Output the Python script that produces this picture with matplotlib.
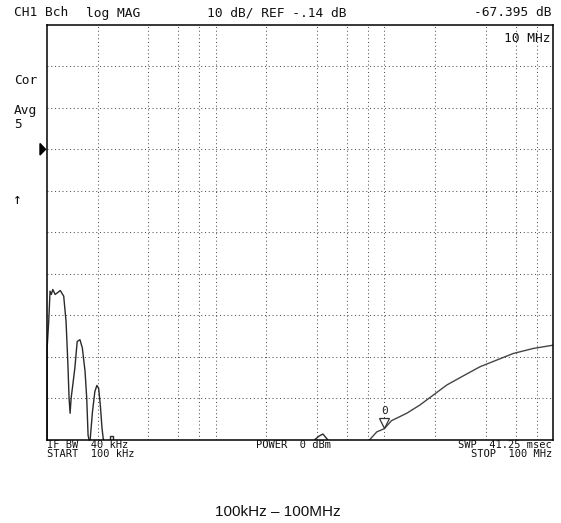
import matplotlib
matplotlib.use("Agg")
import matplotlib.pyplot as plt
from matplotlib.transforms import offset_copy
import numpy as np

# screen settings: 10 dB/div, ref -0.14 dB at 3rd division from the top
ref_db = -0.14
db_per_div = 10
top_db = ref_db + 3 * db_per_div
bot_db = top_db - 10 * db_per_div
f_start = 100e3
f_stop = 100e6

# trace, low frequency lobes (Hz, dB)
lobe_f = [100.6e3, 100.6e3, 102.8e3, 104.7e3, 106.5e3, 108.7e3, 112.2e3, 120.3e3, 126.1e3,
          130.2e3, 133.3e3, 135.7e3, 137.6e3, 139.5e3, 142.7e3, 146.8e3, 151.6e3, 157.4e3,
          162.6e3, 168.7e3, 172.6e3, 175.8e3, 178.3e3]
lobe_db = [-70.14, -48.0, -41.5, -34.3, -35.1, -33.9, -35.1, -34.15, -35.5,
           -41.6, -51.2, -60.1, -63.7, -60.1, -56.9, -52.8, -46.4, -46.0,
           -48.0, -53.6, -60.1, -69.0, -70.14]
lobe2_f = [180.8e3, 186.7e3, 192.8e3, 198.2e3, 203e3, 207.7e3, 212.6e3, 216.6e3]
lobe2_db = [-70.14, -63.3, -58.5, -57.0, -57.7, -61.7, -67.3, -70.14]
blip_f = [236.4e3, 236.4e3, 246.5e3, 246.5e3]
blip_db = [-70.14, -69.2, -69.2, -70.14]
bump_f = [3.88e6, 4.1e6, 4.32e6, 4.63e6]
bump_db = [-70.0, -69.2, -68.7, -70.14]

# trace, rising part
rise_f = [8.21e6, 9.0e6, 10e6, 11.0e6, 13.55e6, 16.24e6, 19.5e6, 23.4e6, 28.7e6, 36.8e6,
          46.2e6, 58.0e6, 76.1e6, 100e6]
rise_db = [-70.0, -68.2, -67.4, -65.5, -63.7, -61.7, -59.3, -56.9, -54.9, -52.5,
           -50.9, -49.3, -48.1, -47.3]

marker_f = 10e6
marker_db = -67.395

grid_f = [m * 10 ** e for e in (5, 6, 7) for m in (2, 4, 6, 8, 10)][:-1]
grid_db = [top_db - i * db_per_div for i in range(1, 10)]

fig = plt.figure(figsize=(5.61, 5.23), dpi=100)
ax = fig.add_axes([46.7 / 561, (523 - 440) / 523, 506.6 / 561, 415.3 / 523])
ax.set_xscale("log")
ax.set_xlim(f_start, f_stop)
ax.set_ylim(bot_db, top_db)
ax.set_xticks([])
ax.set_yticks([])
ax.minorticks_off()
for s in ax.spines.values():
    s.set_linewidth(1.1)
    s.set_color("black")

gcol = "#555555"
gls = (0, (1, 2.6))
for g in grid_f:
    ax.axvline(g, color=gcol, lw=0.75, ls=gls)
for g in grid_db:
    ax.axhline(g, color=gcol, lw=0.75, ls=gls)

tc = "#2a2a2a"
ax.plot(lobe_f, lobe_db, color=tc, lw=1.0, clip_on=False)
ax.plot(lobe2_f, lobe2_db, color=tc, lw=1.0)
ax.plot(blip_f, blip_db, color=tc, lw=1.0)
ax.plot(bump_f, bump_db, color=tc, lw=1.0)
ax.plot(rise_f, rise_db, color="#444444", lw=1.0)

# marker 0 at 10 MHz
ms = 7.5
tr = offset_copy(ax.transData, fig=fig, x=0, y=ms / 2, units="points")
ax.plot([marker_f], [marker_db], marker="v", ms=ms, mfc="white", mec="#333333",
        mew=0.9, transform=tr)
ax.annotate("0", (marker_f, marker_db), xytext=(0, 13), textcoords="offset points",
            ha="center", va="center", fontsize=8, family="DejaVu Sans Mono", color="#222222")

mono = "DejaVu Sans Mono"
fs = 9.3
def px(x, y, s, ha="left", va="center", size=fs):
    fig.text(x / 561, 1 - y / 523, s, ha=ha, va=va, fontsize=size, family=mono, color="#111111")

px(14, 13, "CH1 Bch")
px(86, 13, "log MAG")
px(207, 13, "10 dB/ REF -.14 dB")
px(552, 13, "-67.395 dB", ha="right")
px(550, 38.5, "10 MHz", ha="right")
px(14, 80, "Cor")
px(14, 110.5, "Avg")
px(14, 124.5, "5")
px(13, 200, "\u2191", size=10.5)
fig.patches.append(plt.Polygon([[40 / 561, 1 - 143.5 / 523], [40 / 561, 1 - 155 / 523],
                                [45.5 / 561, 1 - 149.3 / 523]], closed=True,
                               transform=fig.transFigure, color="black"))

bs = 7.5
px(47, 445, "IF BW  40 kHz", size=bs)
px(47, 454, "START  100 kHz", size=bs)
px(256, 445, "POWER  0 dBm", size=bs)
px(552, 445, "SWP  41.25 msec", ha="right", size=bs)
px(552, 454, "STOP  100 MHz", ha="right", size=bs)

fig.text(278 / 561, 1 - 512 / 523, "100kHz \u2013 100MHz", ha="center", va="center",
         fontsize=11, family=["Liberation Sans", "DejaVu Sans"], color="#111111")

fig.savefig("out.png", dpi=100)
